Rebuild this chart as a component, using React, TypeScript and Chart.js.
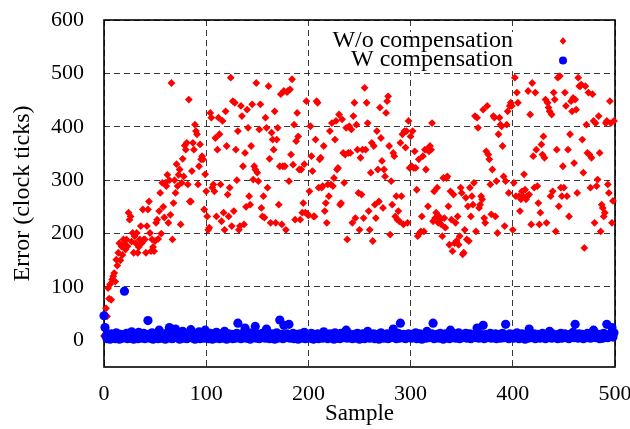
import { useEffect, useRef } from "react";
import { Chart, registerables } from "chart.js";

Chart.register(...registerables);

const xTicks = [0, 100, 200, 300, 400, 500];
const yTicks = [0, 100, 200, 300, 400, 500, 600];
const seriesNames = ["W/o compensation", "W compensation"];
const xTitle = "Sample";
const yTitle = "Error (clock ticks)";

// Error without compensation, one value per sample (0..499)
const redValues = [
  8, 22, 60, 45, 98, 78, 105, 76, 114, 120,
  126, 110, 151, 140, 164, 182, 150, 176, 160, 189,
  182, 170, 189, 176, 239, 226, 232, 185, 201, 164,
  195, 182, 201, 164, 175, 189, 214, 182, 245, 189,
  189, 164, 214, 245, 260, 201, 167, 189, 175, 167,
  186, 220, 226, 190, 242, 276, 200, 295, 250, 230,
  295, 289, 310, 220, 300, 235, 482, 189, 257, 300,
  276, 330, 289, 310, 320, 217, 295, 340, 307, 365,
  357, 370, 292, 451, 260,
  260, 317, 370, 357, 404, 392, 386, 292, 326, 367,
  339, 345, 339, 245, 311, 279, 232, 207, 211, 426,
  417, 286, 292, 279, 379, 232, 357, 417, 386, 292,
  223, 411, 239, 207, 429, 364, 273, 232, 286, 492,
  214, 448, 242, 445, 357, 300, 392, 207, 214, 439,
  420, 326, 217, 351, 250, 432, 398, 270, 254, 364,
  442, 301, 326, 320, 482, 314, 298, 395, 442, 248,
  232, 270, 230, 417, 398, 286, 476, 340, 220, 389,
  376, 357, 429,
  220, 376, 398, 254, 326, 461, 217, 326, 467, 326,
  207, 465, 467, 298, 470, 348, 489, 329, 404, 226,
  373, 426, 382, 320, 226, 320, 239, 257, 330, 239,
  448, 237, 234, 279, 401, 345, 317, 232, 232, 376,
  448, 445, 286, 339, 342, 286, 289, 364, 242, 257,
  220, 292, 270, 392, 292, 407, 289, 304, 376, 411,
  320, 323, 423, 254, 257, 414, 351, 295, 348, 398,
  189, 351, 401, 351, 395, 220, 420, 445, 229, 404,
  357, 276, 207,
  342, 273, 357, 229, 473, 357, 445, 407, 242, 207,
  314, 370, 186, 364, 254, 229, 392, 320, 260, 436,
  379, 336, 248, 320, 307, 426, 448, 457, 364, 198,
  298, 254, 351, 345, 232, 270, 226, 242, 223, 370,
  270, 386, 217, 392, 361, 392, 220, 411, 323, 382,
  326, 392, 323, 354, 323, 282, 195, 339, 201, 204,
  232, 345, 204, 357, 320, 357, 251, 354, 364, 357,
  407, 223, 279, 229, 239, 286, 220, 232, 226, 217,
  195, 304, 229, 211, 304,
  307, 251, 179, 279, 226, 167, 273, 182, 220, 186,
  232, 179, 195, 286, 276, 161, 164, 207, 267, 189,
  251, 186, 286, 232, 270, 254, 295, 420, 204, 417,
  398, 248, 254, 270, 264, 432, 229, 220, 354, 439,
  348, 339, 292, 236, 320, 420, 417, 232, 298, 201,
  386, 417, 404, 401, 364, 307, 214, 298, 404, 429,
  276, 439, 445, 439, 207, 295, 492, 270, 464, 445,
  270, 242, 264, 279, 270, 311, 282, 264, 270, 467,
  273, 423, 217,
  482, 345, 286, 464, 357, 289, 257, 217, 239, 367,
  348, 382, 342, 451, 220, 445, 436, 429, 270, 423,
  279, 464, 451, 204, 357, 492, 251, 495, 286, 270,
  326, 286, 464, 439, 270, 357, 232, 386, 448, 429,
  454, 332, 451, 432, 276, 492, 476, 476, 479, 376,
  314, 173, 476, 404, 351, 464, 348, 286, 342, 461,
  411, 220, 407, 289, 301, 420, 351, 204, 254, 248,
  232, 239, 407, 411, 292, 276, 448, 407, 220, 261,
  411,
];

// Error with compensation, one value per sample (0..499)
const blueValues = [
  46, 24, 8, 3, 10, 5, 2, 12, 6, 4, 9, 3, 14, 5, 8, 2, 11, 6, 4, 10,
  92, 5, 13, 3, 8, 10, 4, 16, 6, 2, 9, 12, 5, 3, 15, 8, 4, 10, 6, 13,
  3, 9, 5, 37, 11, 4, 8, 14, 2, 6, 10, 5, 12, 3, 19, 8, 4, 11, 6, 9,
  2, 13, 5, 10, 24, 4, 8, 3, 12, 6, 21, 9, 5, 14, 2, 10, 6, 17, 4, 8,
  11, 3, 9, 5, 13, 20, 6, 4, 10, 2, 8, 12, 5, 16, 3, 9, 6, 11, 4, 19,
  5, 10, 3, 8, 13, 6, 2, 11, 9, 4, 15, 5, 8, 3, 12, 6, 10, 4, 17, 8,
  2, 9, 12, 5, 6, 11, 3, 10, 8, 4, 13, 32, 6, 9, 3, 12, 5, 8, 23, 4,
  10, 6, 14, 2, 8, 11, 5, 9, 26, 4, 12, 6, 3, 10, 8, 13, 5, 9, 4, 21,
  6, 11, 3, 8, 12, 5, 10, 2, 9, 14, 4, 8, 38, 6, 11, 3, 28, 9, 5, 12,
  8, 30, 4, 10, 6, 13, 3, 9, 5, 11, 2, 8, 12, 4, 10, 6, 15, 3, 9, 5,
  11, 4, 8, 13, 6, 2, 10, 5, 9, 12, 3, 8, 6, 11, 4, 16, 9, 5, 10, 3,
  8, 12, 5, 6, 10, 2, 14, 9, 4, 11, 8, 3, 13, 6, 10, 5, 9, 19, 4, 8,
  12, 5, 10, 3, 8, 11, 6, 4, 13, 9, 2, 10, 5, 12, 8, 3, 11, 6, 17, 9,
  4, 10, 8, 5, 12, 3, 9, 6, 11, 2, 8, 14, 5, 10, 4, 9, 6, 12, 3, 8,
  11, 5, 9, 21, 6, 10, 3, 8, 13, 4, 32, 9, 5, 11, 6, 3, 10, 8, 12, 5,
  9, 4, 11, 6, 8, 14, 3, 10, 5, 12, 8, 2, 9, 6, 11, 4, 17, 8, 5, 10,
  6, 12, 32, 3, 9, 5, 11, 8, 4, 13, 6, 10, 2, 9, 12, 5, 8, 11, 3, 19,
  8, 5, 10, 12, 4, 9, 6, 14, 3, 8, 11, 5, 10, 6, 13, 4, 9, 8, 12, 3,
  10, 6, 8, 11, 5, 23, 9, 4, 12, 6, 10, 28, 3, 8, 11, 5, 9, 6, 13, 4,
  8, 10, 5, 12, 3, 9, 6, 11, 4, 8, 13, 5, 10, 30, 6, 9, 3, 12, 8, 5,
  11, 4, 9, 6, 14, 8, 3, 10, 5, 12, 9, 6, 2, 11, 8, 4, 21, 10, 5, 9,
  6, 12, 3, 8, 11, 5, 10, 4, 9, 13, 6, 8, 3, 11, 5, 10, 17, 8, 4, 12,
  9, 5, 10, 6, 3, 11, 8, 13, 4, 9, 6, 12, 5, 10, 8, 3, 11, 6, 9, 15,
  5, 30, 10, 8, 4, 12, 6, 9, 11, 3, 8, 10, 5, 13, 6, 9, 4, 11, 8, 19,
  10, 5, 12, 6, 9, 3, 11, 8, 4, 13, 6, 10, 30, 5, 9, 11, 8, 24, 6, 14,
];

const FONT_FAMILY = "'Liberation Serif', 'Times New Roman', serif";

export default function App() {
  const canvasRef = useRef<HTMLCanvasElement>(null);

  useEffect(() => {
    const canvas = canvasRef.current;
    if (!canvas) return;

    const boxPlugin = {
      id: "plotBox",
      beforeDatasetsDraw(chart: any) {
        const { ctx, chartArea } = chart;
        ctx.save();
        ctx.strokeStyle = "#000";
        ctx.lineWidth = 1.6;
        ctx.strokeRect(
          chartArea.left,
          chartArea.top,
          chartArea.right - chartArea.left,
          chartArea.bottom - chartArea.top
        );
        ctx.restore();
      },
    };

    const keyPlugin = {
      id: "gnuKey",
      afterDatasetsDraw(chart: any) {
        const ctx = chart.ctx as CanvasRenderingContext2D;
        ctx.save();
        ctx.fillStyle = "#fff";
        ctx.fillRect(322, 32, 268, 39);
        ctx.fillStyle = "#000";
        ctx.font = `24px ${FONT_FAMILY}`;
        ctx.textAlign = "right";
        ctx.textBaseline = "alphabetic";
        ctx.fillText(seriesNames[0], 513, 47);
        ctx.fillText(seriesNames[1], 513, 66);
        // red diamond
        ctx.fillStyle = "#ff0000";
        ctx.beginPath();
        ctx.moveTo(563, 41 - 3.8);
        ctx.lineTo(563 + 3.3, 41);
        ctx.lineTo(563, 41 + 3.8);
        ctx.lineTo(563 - 3.3, 41);
        ctx.closePath();
        ctx.fill();
        // blue circle
        ctx.fillStyle = "#0000ff";
        ctx.beginPath();
        ctx.arc(563, 60.5, 4, 0, Math.PI * 2);
        ctx.fill();
        ctx.restore();
      },
    };

    const chart = new Chart(canvas, {
      type: "scatter",
      data: {
        datasets: [
          {
            label: seriesNames[1],
            data: blueValues.map((v, i) => ({ x: i, y: v })),
            backgroundColor: "#0000ff",
            borderColor: "#0000ff",
            borderWidth: 0,
            pointStyle: "circle",
            pointRadius: 4.6,
            order: 0,
            clip: false,
          } as any,
          {
            label: seriesNames[0],
            data: redValues.map((v, i) => ({ x: i, y: v })),
            backgroundColor: "#ff0000",
            borderColor: "#ff0000",
            borderWidth: 0,
            pointStyle: "rectRot",
            pointRadius: 3.9,
            order: 1,
            clip: false,
          } as any,
        ],
      },
      options: {
        animation: false,
        responsive: false,
        events: [],
        layout: { padding: { left: 0, right: 15, top: 20, bottom: 0 } },
        plugins: {
          legend: { display: false },
          tooltip: { enabled: false },
        },
        scales: {
          x: {
            type: "linear",
            min: 0,
            max: 500,
            afterBuildTicks: (s: any) => {
              s.ticks = xTicks.map((v) => ({ value: v }));
            },
            afterFit: (s: any) => {
              s.height = 62;
              s.paddingLeft = 0;
              s.paddingRight = 0;
            },
            grid: {
              color: "rgba(0,0,0,0.78)",
              lineWidth: 1,
              drawTicks: false,
            },
            border: { display: false, dash: [6, 4] },
            ticks: {
              color: "#000",
              padding: 14,
              maxRotation: 0,
              font: { family: FONT_FAMILY, size: 22 },
            },
            title: {
              display: true,
              text: xTitle,
              color: "#000",
              font: { family: FONT_FAMILY, size: 23 },
              padding: { top: 0, bottom: 1 },
            },
          },
          y: {
            type: "linear",
            min: -50,
            max: 600,
            afterBuildTicks: (s: any) => {
              s.ticks = yTicks.map((v) => ({ value: v }));
            },
            afterFit: (s: any) => {
              s.width = 104;
              s.paddingTop = 0;
              s.paddingBottom = 0;
            },
            grid: {
              color: "rgba(0,0,0,0.78)",
              lineWidth: 1,
              drawTicks: false,
            },
            border: { display: false, dash: [6, 4] },
            ticks: {
              color: "#000",
              padding: 20,
              font: { family: FONT_FAMILY, size: 22 },
            },
            title: {
              display: true,
              text: yTitle,
              color: "#000",
              font: { family: FONT_FAMILY, size: 24 },
              padding: { top: 8, bottom: 0 },
            },
          },
        },
      },
      plugins: [boxPlugin, keyPlugin],
    });

    return () => chart.destroy();
  }, []);

  return (
    <div style={{ position: "fixed", left: 0, top: 0, width: 630, height: 429, background: "#fff" }}>
      <canvas ref={canvasRef} width={630} height={429} style={{ display: "block" }} />
    </div>
  );
}
